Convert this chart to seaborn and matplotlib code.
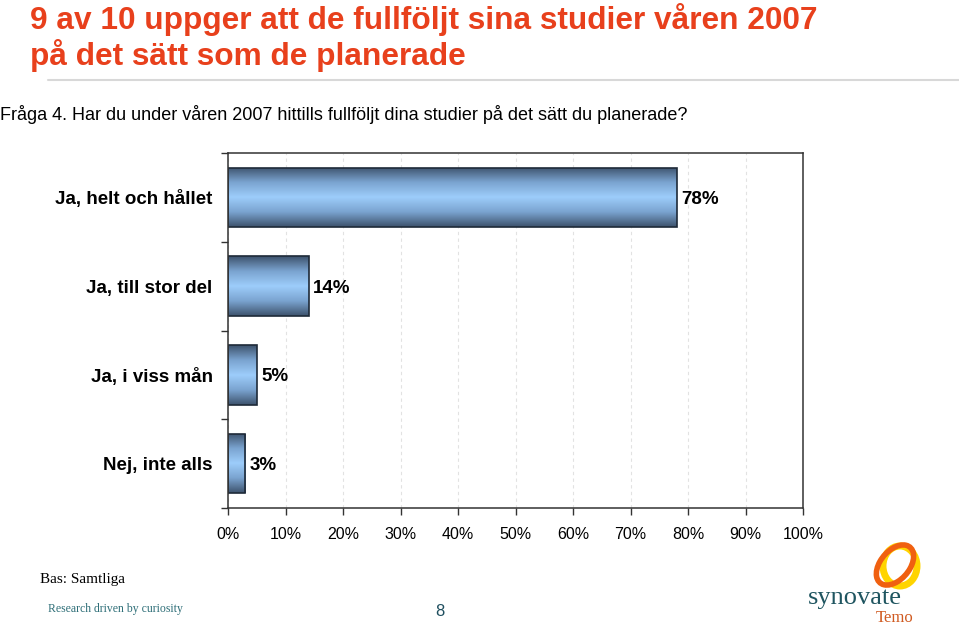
import numpy as np
import pandas as pd
import seaborn as sns
import matplotlib.pyplot as plt
from matplotlib.colors import LinearSegmentedColormap
from matplotlib.patches import Ellipse

# Data
categories = ['Ja, helt och hållet', 'Ja, till stor del', 'Ja, i viss mån', 'Nej, inte alls']
values = [78, 14, 5, 3]
xticks = [0, 10, 20, 30, 40, 50, 60, 70, 80, 90, 100]

df = pd.DataFrame({'svar': categories, 'andel': values})

sns.set_style('white')
plt.rcParams['font.family'] = ['Liberation Sans', 'DejaVu Sans']
plt.rcParams['text.color'] = 'black'
plt.rcParams['xtick.color'] = 'black'
plt.rcParams['ytick.color'] = 'black'

fig = plt.figure(figsize=(9.59, 6.25), dpi=100)
ax = fig.add_axes([228 / 959, 1 - 508 / 625, 575 / 959, 355 / 625])

sns.barplot(data=df, x='andel', y='svar', orient='h', ax=ax,
            color='#6f95c0', edgecolor='#1e2a38', linewidth=1.2, width=0.67)

# gradient fill: dark edges, light blue center
grad = LinearSegmentedColormap.from_list('bar', ['#3d526c', '#7aa3cf', '#9dcdfb', '#7aa3cf', '#3d526c'])
g = np.linspace(0, 1, 256).reshape(-1, 1)
for p in ax.patches:
    x0, y0 = p.get_x(), p.get_y()
    w, h = p.get_width(), p.get_height()
    im = ax.imshow(g, cmap=grad, aspect='auto', extent=[x0, x0 + w, y0 + h, y0],
                   zorder=p.get_zorder() + 0.1, interpolation='bicubic')
    im.set_clip_path(p)
    p.set_facecolor('none')
    p.set_zorder(p.get_zorder() + 0.2)

ax.set_xlim(0, 100)
ax.set_ylim(3.5, -0.5)
ax.set_xticks(xticks)
ax.set_xticklabels([f'{t}%' for t in xticks], fontsize=11.5)
ax.set_yticks(range(len(categories)))
ax.set_yticklabels(categories, fontsize=13.5, fontweight='bold')
ax.tick_params(axis='y', which='major', left=True, length=0, pad=11)
ax.set_yticks([-0.5, 0.5, 1.5, 2.5, 3.5], minor=True)
ax.tick_params(axis='y', which='minor', left=True, length=5, width=1, color='#333333', direction='out')
ax.tick_params(axis='x', bottom=True, length=5, width=1, color='#333333', direction='out', pad=9)
ax.set_xlabel('')
ax.set_ylabel('')
ax.xaxis.grid(True, linestyle=(0, (3, 3)), color='#e2e2e2', linewidth=0.8)
ax.set_axisbelow(True)
for s in ax.spines.values():
    s.set_color('#333333')
    s.set_linewidth(1.1)

for i, v in enumerate(values):
    ax.text(v + 0.8, i, f'{v}%', va='center_baseline', ha='left', fontsize=13.5, fontweight='bold')

# Header
fig.text(30 / 959, 1 - 19 / 625, '9 av 10 uppger att de fullföljt sina studier våren 2007',
         color='#e8401c', fontsize=22.8, fontweight='bold', va='center')
fig.text(30 / 959, 1 - 56 / 625, 'på det sätt som de planerade',
         color='#e8401c', fontsize=22.8, fontweight='bold', va='center')
fig.add_artist(plt.Line2D([48 / 959, 1], [1 - 80 / 625] * 2, color='#d8d8d8', linewidth=1.5))
fig.text(0 / 959, 1 - 115 / 625,
         'Fråga 4. Har du under våren 2007 hittills fullföljt dina studier på det sätt du planerade?',
         fontsize=13, va='center')

# Footer
fig.text(40 / 959, 1 - 580 / 625, 'Bas: Samtliga', family='Liberation Serif', fontsize=11, va='center')
fig.text(48 / 959, 1 - 609 / 625, 'Research driven by curiosity', family='Liberation Serif',
         fontsize=8.5, color='#2f6f78', va='center')
fig.text(440 / 959, 1 - 612 / 625, '8', fontsize=12, color='#1f4f5f', va='center', ha='center')

# Logo
fig.text(808 / 959, 1 - 598 / 625, 'synovate', family='Liberation Serif', fontsize=19,
         color='#1f5560', va='center')
fig.text(876 / 959, 1 - 618 / 625, 'Temo', family='Liberation Serif', fontsize=12,
         color='#d05a20', va='center')
fig.add_artist(Ellipse((900 / 959, 1 - 566 / 625), 34 / 959, 40 / 625, angle=0,
                       fill=False, edgecolor='#ffd400', linewidth=5, transform=fig.transFigure))
fig.add_artist(Ellipse((895 / 959, 1 - 565 / 625), 32 / 959, 42 / 625, angle=-20,
                       fill=False, edgecolor='#f06010', linewidth=4, transform=fig.transFigure))

plt.savefig('out.png', dpi=100)
